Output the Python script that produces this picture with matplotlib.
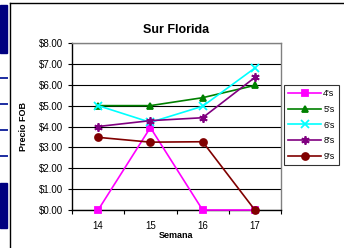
import matplotlib.pyplot as plt
from matplotlib.patches import Rectangle
from matplotlib.lines import Line2D

plt.rcParams['font.family'] = ['Liberation Sans', 'DejaVu Sans']

semanas = [14, 15, 16, 17]
precio_4s = [0.0, 3.95, 0.0, 0.0]
precio_5s = [5.0, 5.0, 5.38, 5.97]
precio_6s = [5.0, 4.2, 4.97, 6.8]
precio_8s = [4.0, 4.28, 4.42, 6.35]
precio_9s = [3.48, 3.25, 3.27, 0.0]
y_ticks = [0, 1, 2, 3, 4, 5, 6, 7, 8]

W, H = 344, 248
fig = plt.figure(figsize=(W / 100, H / 100), dpi=100)

# stray page decoration on the left edge
navy = '#000080'
fig.patches.append(Rectangle((0, 1 - 53 / H), 7 / W, 48 / H, transform=fig.transFigure, color=navy))
fig.patches.append(Rectangle((0, 1 - 228 / H), 7 / W, 45 / H, transform=fig.transFigure, color=navy))
for yy in [78, 104, 130, 156]:
    fig.lines.append(Line2D([0, 7 / W], [1 - yy / H] * 2, transform=fig.transFigure, color='#1c2ca0', lw=1.4))
# chart frame
fig.lines.append(Line2D([9.5 / W, 9.5 / W], [0, 1 - 3 / H], transform=fig.transFigure, color='black', lw=1))
fig.lines.append(Line2D([9.5 / W, 1], [1 - 3 / H] * 2, transform=fig.transFigure, color='black', lw=1))

ax = fig.add_axes([72 / W, (H - 210) / H, 209 / W, 167 / H])

series = [
    ("4's", precio_4s, '#ff00ff', 's', 5),
    ("5's", precio_5s, '#008000', '^', 5),
    ("6's", precio_6s, '#00ffff', 'x', 6),
    ("8's", precio_8s, '#800080', (6, 2, 0), 6),
    ("9's", precio_9s, '#800000', 'o', 5),
]
for name, vals, col, mk, ms in series:
    ax.plot(semanas, vals, color=col, marker=mk, markersize=ms, lw=1.2,
            markeredgewidth=1.3, label=name, clip_on=False, zorder=3)

ax.set_xlim(13.5, 17.5)
ax.set_ylim(0, 8)
ax.set_yticks(y_ticks)
ax.set_yticklabels(['$%.2f' % v for v in y_ticks], fontsize=7)
ax.set_xticks([13.5, 14.5, 15.5, 16.5, 17.5])
ax.set_xticklabels([])
ax.set_xticks(semanas, minor=True)
ax.set_xticklabels([str(s) for s in semanas], minor=True, fontsize=7)
ax.tick_params(axis='x', which='minor', length=0, pad=8)
ax.tick_params(axis='both', which='major', length=3, width=0.8, direction='out', color='black')
ax.yaxis.grid(True, color='black', lw=0.8)
ax.set_axisbelow(True)
ax.spines['top'].set_color('#808080')
ax.spines['right'].set_color('#808080')
for s in ax.spines.values():
    s.set_linewidth(1)

ax.set_title('Sur Florida', fontsize=9, fontweight='bold', pad=7)
ax.set_xlabel('Semana', fontsize=6.5, fontweight='bold', labelpad=0)
ax.set_ylabel('Precio FOB', fontsize=6.5, fontweight='bold', labelpad=8)

leg = ax.legend(loc='upper left', bbox_to_anchor=(284 / W, 1 - 85 / H), bbox_transform=fig.transFigure,
                fontsize=6.5, frameon=True, fancybox=False, handlelength=3.7, handletextpad=0.2,
                labelspacing=0.75, borderpad=0.45, borderaxespad=0)
leg.get_frame().set_edgecolor('black')
leg.get_frame().set_linewidth(0.8)

fig.savefig('out.png', dpi=100)
